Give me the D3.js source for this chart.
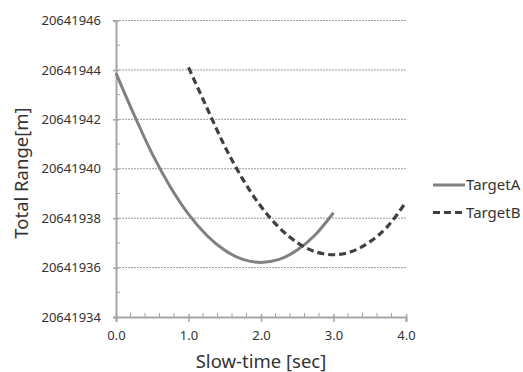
<!DOCTYPE html>
<html>
<head>
<meta charset="utf-8">
<script src="https://cdn.jsdelivr.net/npm/d3@7"></script>
<style>
  body { margin: 0; background: #fff; }
  text { font-family: "Noto Sans", sans-serif; fill: #333; }
</style>
</head>
<body>
<script>
// data
var timeA = [0, 0.25, 0.5, 0.75, 1.0, 1.25, 1.5, 1.75, 2.0, 2.25, 2.5, 2.75, 3.0];
var rangeA = [20641943.87, 20641942.18, 20641940.60, 20641939.26, 20641938.16, 20641937.31,
              20641936.70, 20641936.33, 20641936.21, 20641936.33, 20641936.71, 20641937.33, 20641938.22];
var timeB = [1.0, 1.25, 1.5, 1.75, 2.0, 2.25, 2.5, 2.75, 3.0, 3.25, 3.5, 3.75, 4.0];
var rangeB = [20641944.10, 20641942.49, 20641940.91, 20641939.57, 20641938.47, 20641937.62,
              20641937.01, 20641936.64, 20641936.52, 20641936.65, 20641937.04, 20641937.68, 20641938.66];
var seriesNames = ["TargetA", "TargetB"];
var yTicks = [20641934, 20641936, 20641938, 20641940, 20641942, 20641944, 20641946];
var xTicks = [0, 1, 2, 3, 4];

var width = 523, height = 372;
var margin = { left: 116, right: 117, top: 20.5, bottom: 55 };

var svg = d3.select("body").append("svg")
    .attr("width", width)
    .attr("height", height);

var x = d3.scaleLinear().domain([0, 4]).range([margin.left, width - margin.right]);
var y = d3.scaleLinear().domain([20641934, 20641946]).range([height - margin.bottom, margin.top]);

// gridlines
svg.append("g").selectAll("line")
    .data(yTicks.slice(1))
    .enter().append("line")
    .attr("x1", x(0)).attr("x2", x(4))
    .attr("y1", function(d) { return y(d); })
    .attr("y2", function(d) { return y(d); })
    .attr("stroke", "#9a9a9a")
    .attr("stroke-width", 1)
    .attr("stroke-dasharray", "2,1");

// minor ticks, inside
var yMinor = d3.range(20641935, 20641946, 2);
svg.append("g").selectAll("line")
    .data(yMinor)
    .enter().append("line")
    .attr("x1", x(0)).attr("x2", x(0) + 4)
    .attr("y1", function(d) { return y(d); })
    .attr("y2", function(d) { return y(d); })
    .attr("stroke", "#a6a6a6");

var xMinor = d3.range(0.2, 4, 0.2).filter(function(d) { return Math.abs(d - Math.round(d)) > 0.01; });
svg.append("g").selectAll("line")
    .data(xMinor)
    .enter().append("line")
    .attr("x1", function(d) { return x(d); })
    .attr("x2", function(d) { return x(d); })
    .attr("y1", y.range()[0]).attr("y2", y.range()[0] - 4)
    .attr("stroke", "#a6a6a6");

// axes
var yAxis = svg.append("g")
    .attr("transform", "translate(" + x(0) + ",0)")
    .call(d3.axisLeft(y).tickValues(yTicks).tickFormat(d3.format("d")).tickSize(3).tickPadding(12));
var xAxis = svg.append("g")
    .attr("transform", "translate(0," + y.range()[0] + ")")
    .call(d3.axisBottom(x).tickValues(xTicks).tickFormat(d3.format(".1f")).tickSize(5).tickPadding(9));

[yAxis, xAxis].forEach(function(a) {
    a.select(".domain").attr("stroke", "#a6a6a6").attr("stroke-width", 2);
    a.selectAll(".tick line").attr("stroke", "#a6a6a6").attr("stroke-width", 1.5);
    a.selectAll("text").attr("font-size", 13).attr("fill", "#333")
        .attr("font-family", "Noto Sans, sans-serif");
});
xAxis.selectAll(".tick line").attr("y1", -3);
yAxis.selectAll(".tick line").attr("x2", -3).attr("x1", 3);

// series
var line = d3.line()
    .x(function(d) { return x(d[0]); })
    .y(function(d) { return y(d[1]); })
    .curve(d3.curveMonotoneX);

svg.append("path")
    .datum(d3.zip(timeA, rangeA))
    .attr("d", line)
    .attr("fill", "none")
    .attr("stroke", "#808080")
    .attr("stroke-width", 3);

svg.append("path")
    .datum(d3.zip(timeB, rangeB))
    .attr("d", line)
    .attr("fill", "none")
    .attr("stroke", "#404040")
    .attr("stroke-width", 3.2)
    .attr("stroke-dasharray", "7,4");

// axis titles
svg.append("text")
    .attr("x", 261).attr("y", 368)
    .attr("text-anchor", "middle")
    .attr("font-size", 18.5)
    .text("Slow-time [sec]");

svg.append("text")
    .attr("transform", "translate(28,173) rotate(-90)")
    .attr("text-anchor", "middle")
    .attr("font-size", 18.5)
    .text("Total Range[m]");

// legend
var legend = svg.append("g").selectAll("g")
    .data(seriesNames)
    .enter().append("g")
    .attr("transform", function(d, i) { return "translate(433," + (185 + i * 27.5) + ")"; });

legend.append("line")
    .attr("x1", 0).attr("x2", 32)
    .attr("stroke", function(d, i) { return i === 0 ? "#808080" : "#404040"; })
    .attr("stroke-width", 3)
    .attr("stroke-dasharray", function(d, i) { return i === 0 ? null : "7,4"; });

legend.append("text")
    .attr("x", 33).attr("y", 5)
    .attr("font-size", 15)
    .text(function(d) { return d; });
</script>
</body>
</html>
